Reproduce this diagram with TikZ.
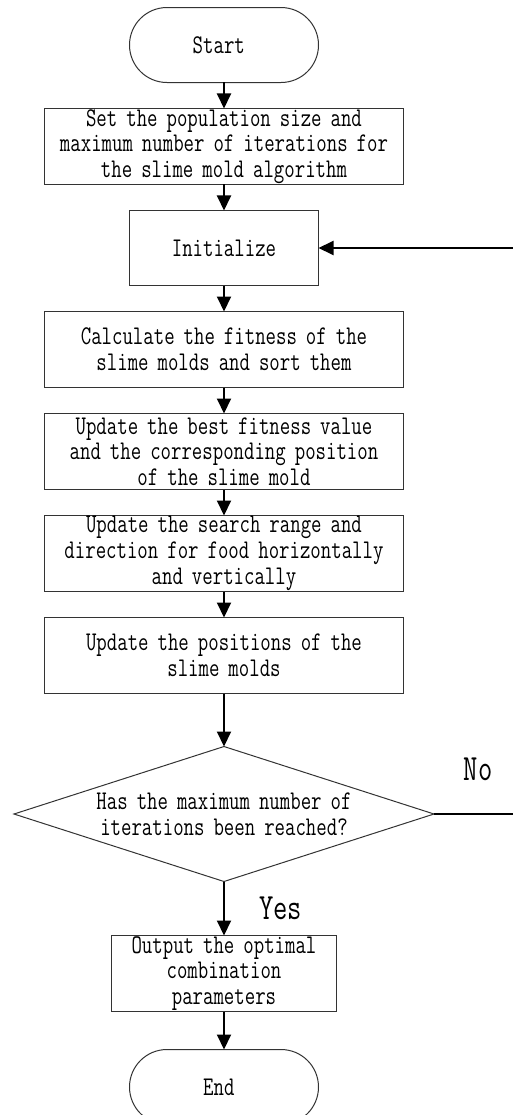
\documentclass[tikz,border=0pt]{standalone}
\usepackage{fontspec}
\setmainfont{Latin Modern Mono}[FakeStretch=0.75]
\usepackage{tikz}
\usetikzlibrary{matrix}
\usetikzlibrary{shapes.geometric}
\usetikzlibrary{arrows.meta}

\begin{document}
\begin{tikzpicture}[>={Triangle[length=15pt,width=14pt]},x=1pt,y=1pt,
	every node/.style={font=\fontsize{27}{25.7}\selectfont,text=black},
	boxbase/.style={draw=black!80,line width=1pt,inner sep=0pt,outer sep=0pt,align=center},
	termbox/.style={boxbase,rectangle,rounded corners=37.5pt,minimum width=189pt,minimum height=75pt},
	procbox/.style={boxbase,rectangle,text width=350pt,minimum width=358pt,minimum height=76pt},
	initbox/.style={boxbase,rectangle,text width=180pt,minimum width=189pt,minimum height=75pt},
	outbox/.style={boxbase,rectangle,text width=215pt,minimum width=225pt,minimum height=76pt},
	decbox/.style={boxbase,diamond,aspect=3.11,text width=270pt,minimum width=420pt,minimum height=135pt},
	link/.style={->,line width=2pt,draw=black},
	lbl/.style={inner sep=0pt,font=\fontsize{37}{40}\selectfont}
	]
		\useasboundingbox (0,0) rectangle (513,-1115);
		\matrix (chart) at (224,-7) [%
		matrix of nodes,
		anchor=north,
		inner sep=0pt,outer sep=0pt,
		nodes={anchor=center},
		row sep=25pt,ampersand replacement=\&
		]
		{
			|[termbox]| Start \\
			|[procbox]| {Set the population size and\\maximum number of iterations for\\the slime mold algorithm} \\
			|[initbox]| Initialize \\
			|[procbox]| {Calculate the fitness of the\\slime molds and sort them} \\
			|[procbox]| {Update the best fitness value\\and the corresponding position\\of the slime mold} \\
			|[procbox]| {Update the search range and\\direction for food horizontally\\and vertically} \\
			|[procbox]| {Update the positions of the\\slime molds} \\[27pt]
			|[decbox]| {Has the maximum number of\\iterations been reached?} \\[28pt]
			|[outbox]| {Output the optimal\\combination\\parameters} \\[12pt]
			|[termbox]| End \\
		};
		\coordinate (loopr) at (522,0);
		\draw[link] (chart-1-1) -- (chart-2-1);
		\draw[link] (chart-2-1) -- (chart-3-1);
		\draw[link] (chart-3-1) -- (chart-4-1);
		\draw[link] (chart-4-1) -- (chart-5-1);
		\draw[link] (chart-5-1) -- (chart-6-1);
		\draw[link] (chart-6-1) -- (chart-7-1);
		\draw[link] (chart-7-1) -- (chart-8-1);
		\draw[link] (chart-8-1) -- (chart-9-1) node [midway,right=34pt,lbl] (yes) {Yes};
		\draw[link] (chart-9-1) -- (chart-10-1);
		\draw[link] (chart-8-1.east) -- (loopr |- chart-8-1.east) node [midway,above=32pt,lbl] (no) {No}
			-- (loopr |- chart-3-1.east) -- (chart-3-1.east);
\end{tikzpicture}
\end{document}
